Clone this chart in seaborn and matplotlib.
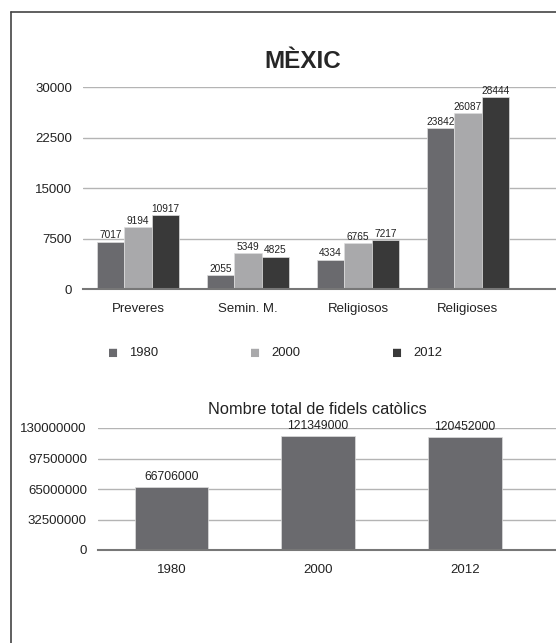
import pandas as pd
import matplotlib.pyplot as plt
import seaborn as sns

# Data
categories = ["Preveres", "Semin. M.", "Religiosos", "Religioses"]
years = ["1980", "2000", "2012"]
vals_1980 = [7017, 2055, 4334, 23842]
vals_2000 = [9194, 5349, 6765, 26087]
vals_2012 = [10917, 4825, 7217, 28444]

total_years = ["1980", "2000", "2012"]
total_fidels = [66706000, 121349000, 120452000]

colors = ["#6a6a6e", "#a9a9ab", "#393939"]
grid_col = "#b4b4b4"

sns.set_style("white")
plt.rcParams['font.family'] = ['Liberation Sans', 'DejaVu Sans']

df = pd.DataFrame({
    "cat": categories * 3,
    "year": [y for y in years for _ in categories],
    "val": vals_1980 + vals_2000 + vals_2012,
})
df_tot = pd.DataFrame({"year": total_years, "val": total_fidels})

fig = plt.figure(figsize=(5.56, 6.43), dpi=100)

# frame border (left + top)
fig.add_artist(plt.Line2D([11 / 556, 11 / 556], [0, 1 - 12 / 643], color="#444444", lw=1.2))
fig.add_artist(plt.Line2D([11 / 556, 1], [1 - 12 / 643, 1 - 12 / 643], color="#444444", lw=1.2))

# ---- top chart ----
ax1 = fig.add_axes([83 / 556, 1 - 289 / 643, (556 - 83) / 556, (289 - 87) / 643])
sns.barplot(data=df, x="cat", y="val", hue="year", palette=colors, width=0.75,
            ax=ax1, legend=False, saturation=1, edgecolor="#dddddd", linewidth=0.5)
ax1.set_xlim(-0.5, 3.8)
ax1.set_ylim(0, 30000)
ax1.set_yticks([0, 7500, 15000, 22500, 30000])
ax1.set_yticklabels(["0", "7500", "15000", "22500", "30000"])
ax1.yaxis.grid(True, color=grid_col, lw=1)
ax1.set_axisbelow(True)
for s in ["top", "right", "left"]:
    ax1.spines[s].set_visible(False)
ax1.spines["bottom"].set_color("#777777")
ax1.spines["bottom"].set_linewidth(1.5)
ax1.tick_params(axis="both", length=0, labelsize=9.5, colors="#222222", pad=8)
ax1.tick_params(axis="x", pad=10)
ax1.set_xlabel("")
ax1.set_ylabel("")
for c in ax1.containers:
    ax1.bar_label(c, fontsize=7.3, padding=1, color="#222222")
ax1.set_title("MÈXIC", fontsize=17.5, fontweight="bold", pad=14, x=0.465)

# legend
for x, y, c in zip([113, 255, 397], years, colors):
    fig.text(x / 556, 1 - 353 / 643, "■", color=c, fontsize=12, ha="center", va="center")
    fig.text((x + 16) / 556, 1 - 353 / 643, y, fontsize=9.4, ha="left", va="center", color="#222222")

# ---- bottom chart ----
ax2 = fig.add_axes([98 / 556, 1 - 550 / 643, (556 - 98) / 556, (550 - 428) / 643])
sns.barplot(data=df_tot, x="year", y="val", color=colors[0], width=0.5, ax=ax2,
            saturation=1, edgecolor="#dddddd", linewidth=0.5)
ax2.set_xlim(-0.5, 2.62)
ax2.set_ylim(0, 130000000)
ax2.set_yticks([0, 32500000, 65000000, 97500000, 130000000])
ax2.set_yticklabels(["0", "32500000", "65000000", "97500000", "130000000"])
ax2.yaxis.grid(True, color=grid_col, lw=1)
ax2.set_axisbelow(True)
for s in ["top", "right", "left"]:
    ax2.spines[s].set_visible(False)
ax2.spines["bottom"].set_color("#777777")
ax2.spines["bottom"].set_linewidth(1.5)
ax2.tick_params(axis="both", length=0, labelsize=9.5, colors="#222222", pad=8)
ax2.tick_params(axis="x", pad=10)
ax2.set_xlabel("")
ax2.set_ylabel("")
for c in ax2.containers:
    ax2.bar_label(c, fmt="%d", fontsize=8.8, padding=3, color="#222222")
ax2.set_title("Nombre total de fidels catòlics", fontsize=11.8, pad=10, x=0.48, color="#222222")

fig.savefig("out.png", dpi=100)
